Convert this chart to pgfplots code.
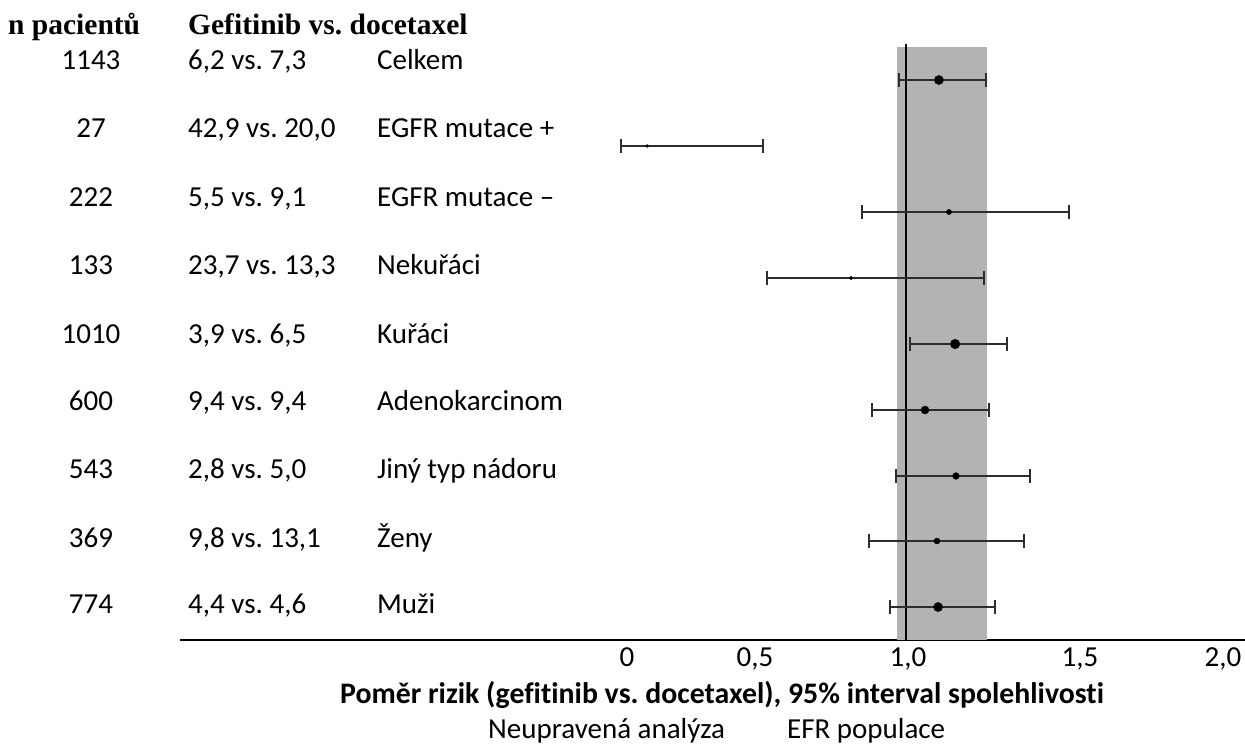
\documentclass[border=0pt]{standalone}
\usepackage{fontspec}
\setmainfont{Carlito}[Ligatures=CommonOff]
\newfontfamily\headfont{Liberation Serif}
\usepackage{pgfplots}
\pgfplotsset{compat=1.18}
\frenchspacing
\definecolor{bandgray}{RGB}{179,179,179}
\definecolor{bargray}{RGB}{45,45,45}
\newcommand{\txt}{\fontsize{29}{33}\selectfont}
\newcommand{\hdr}{\headfont\bfseries\fontsize{29.5}{33}\selectfont}
% one forest-plot row: point, y, plus, minus, marker size
\newcommand{\frow}[5]{%
  \addplot[only marks, mark=*, mark size=#5, black,
    error bars/.cd, x dir=both, x explicit, error mark=|,
    error bar style={line width=1.6pt, bargray},
    error mark options={line width=1.6pt, bargray, mark size=7pt}]
    coordinates {(#1,#2) += (#3,0) -= (#4,0)};}
\begin{document}
\begin{tikzpicture}
\begin{axis}[
  scale only axis, width=1065pt, height=600pt,
  xmin=-1.6022, xmax=2.2151, ymin=0, ymax=600,
  axis x line*=bottom, axis y line=none,
  x axis line style={-, line width=2pt, black},
  xtick={0,0.4588,1.0072,1.6237,2.1362},
  xticklabels={0,{0,5},{1,0},{1,5},{2,0}},
  major tick length=0pt,
  xticklabel style={font=\txt, anchor=base, yshift=-26pt, inner sep=0pt},
  clip=false,
]
% reference band and line of no effect
\addplot[fill=bandgray, draw=none] coordinates {(0.9677,0) (0.9677,593) (1.2903,593) (1.2903,0)} -- cycle;
\addplot[black, line width=2pt] coordinates {(1,0) (1,596)};
% rows: HR, y, +err, -err, marker size
\frow{1.118}{560}{0.169}{0.143}{4.6pt}
\frow{0.072}{494}{0.415}{0.094}{1.5pt}
\frow{1.154}{428}{0.430}{0.312}{2.6pt}
\frow{0.803}{362}{0.477}{0.301}{1.9pt}
\frow{1.176}{296}{0.186}{0.162}{4.8pt}
\frow{1.068}{230}{0.229}{0.190}{4.0pt}
\frow{1.179}{164}{0.265}{0.215}{3.4pt}
\frow{1.111}{99}{0.312}{0.244}{3.0pt}
\frow{1.115}{33}{0.204}{0.172}{4.6pt}
% headers
\node[anchor=base west, font=\hdr, inner sep=0pt] at (axis cs:-2.2186,605) {n pacientů};
\node[anchor=base west, font=\hdr, inner sep=0pt] at (axis cs:-1.5735,605) {Gefitinib vs. docetaxel};
% column 1
\node[anchor=base, font=\txt] at (axis cs:-1.9211,570) {1143};
\node[anchor=base, font=\txt] at (axis cs:-1.9211,502) {27};
\node[anchor=base, font=\txt] at (axis cs:-1.9211,434) {222};
\node[anchor=base, font=\txt] at (axis cs:-1.9211,366) {133};
\node[anchor=base, font=\txt] at (axis cs:-1.9211,297) {1010};
\node[anchor=base, font=\txt] at (axis cs:-1.9211,230) {600};
\node[anchor=base, font=\txt] at (axis cs:-1.9211,162) {543};
\node[anchor=base, font=\txt] at (axis cs:-1.9211,93) {369};
\node[anchor=base, font=\txt] at (axis cs:-1.9211,27) {774};
% column 2
\begin{scope}[every node/.style={anchor=base west, font=\txt, inner sep=0pt}]
\node at (axis cs:-1.5735,570) {6,2 vs. 7,3};
\node at (axis cs:-1.5735,502) {42,9 vs. 20,0};
\node at (axis cs:-1.5735,434) {5,5 vs. 9,1};
\node at (axis cs:-1.5735,366) {23,7 vs. 13,3};
\node at (axis cs:-1.5735,297) {3,9 vs. 6,5};
\node at (axis cs:-1.5735,230) {9,4 vs. 9,4};
\node at (axis cs:-1.5735,162) {2,8 vs. 5,0};
\node at (axis cs:-1.5735,93) {9,8 vs. 13,1};
\node at (axis cs:-1.5735,27) {4,4 vs. 4,6};
% column 3
\node at (axis cs:-0.8961,570) {Celkem};
\node at (axis cs:-0.8961,502) {EGFR mutace +};
\node at (axis cs:-0.8961,434) {EGFR mutace –};
\node at (axis cs:-0.8961,366) {Nekuřáci};
\node at (axis cs:-0.8961,297) {Kuřáci};
\node at (axis cs:-0.8961,230) {Adenokarcinom};
\node at (axis cs:-0.8961,162) {Jiný typ nádoru};
\node at (axis cs:-0.8961,93) {Ženy};
\node at (axis cs:-0.8961,27) {Muži};
% axis title lines
\node[font=\bfseries\fontsize{29.8}{33}\selectfont] at (axis cs:-1.0287,-63) {Poměr rizik (gefitinib vs. docetaxel), 95\% interval spolehlivosti};
\node at (axis cs:-0.4982,-98) {Neupravená analýza};
\node at (axis cs:0.5735,-98) {EFR populace};
\end{scope}
\coordinate (BL) at (axis cs:-2.2473,-104);
\coordinate (TR) at (axis cs:2.2151,640);
\end{axis}
\pgfresetboundingbox
\path (BL) rectangle (TR);
\end{tikzpicture}
\end{document}
